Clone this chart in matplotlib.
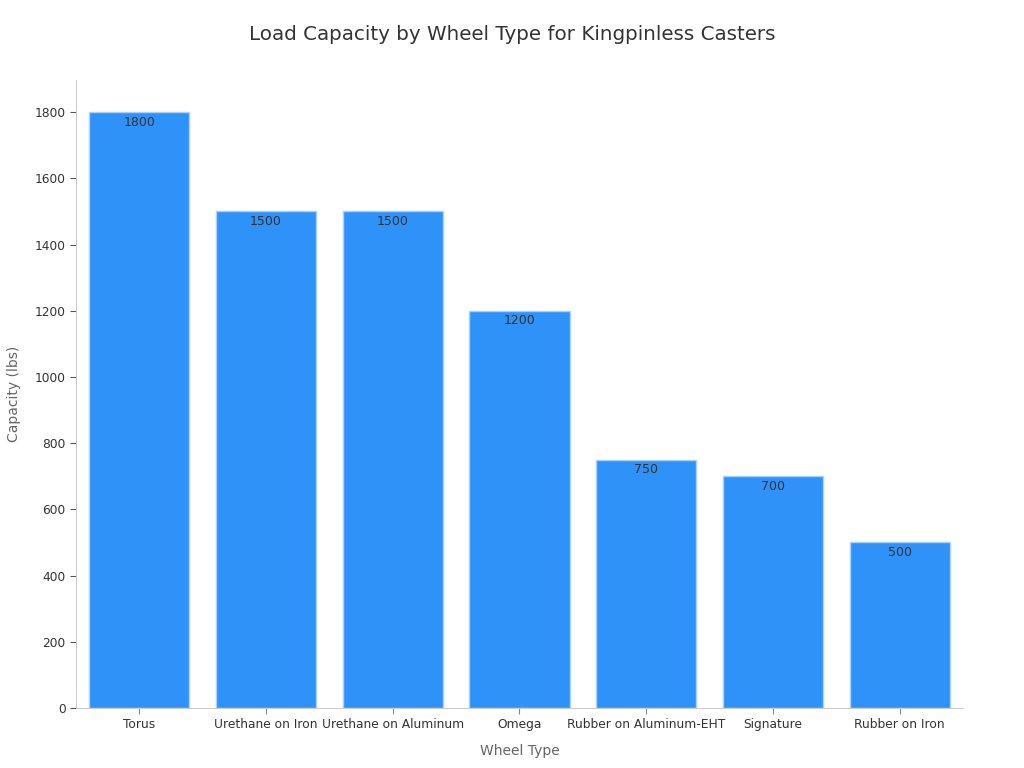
import matplotlib.pyplot as plt

wheel_types = ["Torus", "Urethane on Iron", "Urethane on Aluminum", "Omega",
               "Rubber on Aluminum-EHT", "Signature", "Rubber on Iron"]
capacity_lbs = [1800, 1500, 1500, 1200, 750, 700, 500]

fig = plt.figure(figsize=(10.24, 7.68), dpi=100)
ax = fig.add_axes([0.0742, 0.0781, 0.8662, 0.8177])

x = range(len(wheel_types))
bars = ax.bar(x, capacity_lbs, width=0.79, color="#2f92f8",
              edgecolor="#a9d0f7", linewidth=1)

for b, v in zip(bars, capacity_lbs):
    ax.annotate(f"{v}", (b.get_x() + b.get_width() / 2, v),
                xytext=(0, -2.5), textcoords="offset points",
                ha="center", va="top", fontsize=9, color="#333333")

ax.set_xlim(-0.5, 6.5)
ax.set_ylim(0, 1897)
ax.set_yticks(range(0, 1801, 200))
ax.set_xticks(list(x))
ax.set_xticklabels(wheel_types)
ax.tick_params(axis="both", labelsize=8.8, length=4)
ax.tick_params(axis="x", colors="#888888", labelcolor="#333333")
ax.tick_params(axis="y", colors="#555555", labelcolor="#333333")

for s in ["top", "right"]:
    ax.spines[s].set_visible(False)
for s in ["left", "bottom"]:
    ax.spines[s].set_color("#cccccc")

ax.set_xlabel("Wheel Type", fontsize=10, color="#666666", labelpad=9)
ax.set_ylabel("Capacity (lbs)", fontsize=10, color="#666666", labelpad=10)
fig.suptitle("Load Capacity by Wheel Type for Kingpinless Casters",
             fontsize=14.3, color="#333333", y=0.968)

fig.savefig("out.png", dpi=100)
